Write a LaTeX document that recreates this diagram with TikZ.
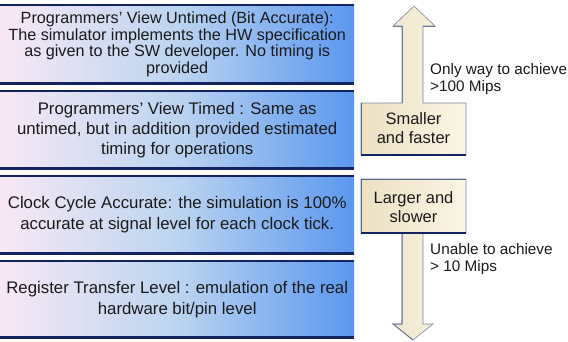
\documentclass[tikz,border=0pt]{standalone}
\usepackage{fontspec}
\setmainfont{Liberation Sans}
\definecolor{pinkL}{HTML}{F8E8F5}
\definecolor{blueM}{HTML}{BCD4F0}
\definecolor{blueR}{HTML}{5B97EF}
\definecolor{navy}{HTML}{13235F}
\definecolor{txt}{HTML}{1A1A1A}
\definecolor{beigeL}{HTML}{EBE0C2}
\definecolor{beigeR}{HTML}{FBF5E6}
\definecolor{edge}{HTML}{7A869E}
\begin{document}
\begin{tikzpicture}[x=1pt,y=-1pt,
  lvl/.style={rectangle, inner sep=0pt, minimum width=354pt, minimum height=#1,
    anchor=north west, left color=pinkL, right color=blueR, middle color=blueM,
    align=center, text=txt},
  topline/.style={navy, line width=1.2pt},
  botline/.style={navy, line width=2.4pt},
  callout/.style={left color=beigeL, right color=beigeR, draw=edge, line width=0.6pt, line join=miter},
  ctext/.style={align=center, text=txt, font=\fontsize{16.5}{19.5}\selectfont},
  side/.style={align=left, anchor=west, text=txt, font=\fontsize{15.3}{16.5}\selectfont, inner sep=0pt}]
\useasboundingbox (0,0) rectangle (568,341);
% level boxes
\node[lvl=78pt, font=\fontsize{16.2}{16.7}\selectfont] (b1) at (0,5)
  {Programmers’ View Untimed (Bit Accurate):\\The simulator implements the HW specification\\as given to the SW developer. No timing is\\provided};
\node[lvl=77pt, font=\fontsize{16.8}{20}\selectfont] (b2) at (0,91)
  {Programmers’ View Timed : Same as\\untimed, but in addition provided estimated\\timing for operations};
\node[lvl=77pt, font=\fontsize{16.8}{21.5}\selectfont] (b3) at (0,176)
  {Clock Cycle Accurate: the simulation is 100\%\\accurate at signal level for each clock tick.};
\node[lvl=76pt, font=\fontsize{16.8}{21}\selectfont] (b4) at (0,261)
  {Register Transfer Level : emulation of the real\\hardware bit/pin level};
\foreach \b in {b1,b2,b3,b4}{
  \draw[topline] (\b.north west) -- (\b.north east);
  \draw[botline] (\b.south west) -- (\b.south east);
}
% up callout
\draw[callout] (361,155) -- (361,103) -- (402,103) -- (402,26) -- (393,26) -- (414,6)
  -- (435,26) -- (423,26) -- (423,103) -- (466,103) -- (466,155) -- cycle;
\draw[navy!70, line width=1pt] (361,155) -- (361,103);
\draw[navy!60, line width=1pt] (402,103) -- (402,26);
\draw[navy!60, line width=1pt] (393,26) -- (402,26);
\draw[navy!60, line width=1pt] (423,26) -- (435,26);
\draw[botline] (361,155) -- (466,155);
\node[ctext] (up) at (413.5,128) {Smaller\\and faster};
% down callout
\draw[callout] (361,179) -- (466,179) -- (466,233) -- (423,233) -- (423,324) -- (433,324)
  -- (413,340) -- (393,324) -- (402,324) -- (402,233) -- (361,233) -- cycle;
\draw[navy!70, line width=1pt] (361,179) -- (361,233);
\draw[navy!70, line width=1pt] (361,179) -- (466,179);
\draw[navy!60, line width=1pt] (402,233) -- (402,324) -- (393,324) -- (413,340);
\draw[botline] (361,233) -- (466,233);
\node[ctext] (dn) at (413.5,207) {Larger and\\slower};
% side labels
\node[side] (t1) at (430,79) {Only way to achieve\\>100 Mips};
\node[side] (t2) at (430,259) {Unable to achieve\\> 10 Mips};
\end{tikzpicture}
\end{document}
